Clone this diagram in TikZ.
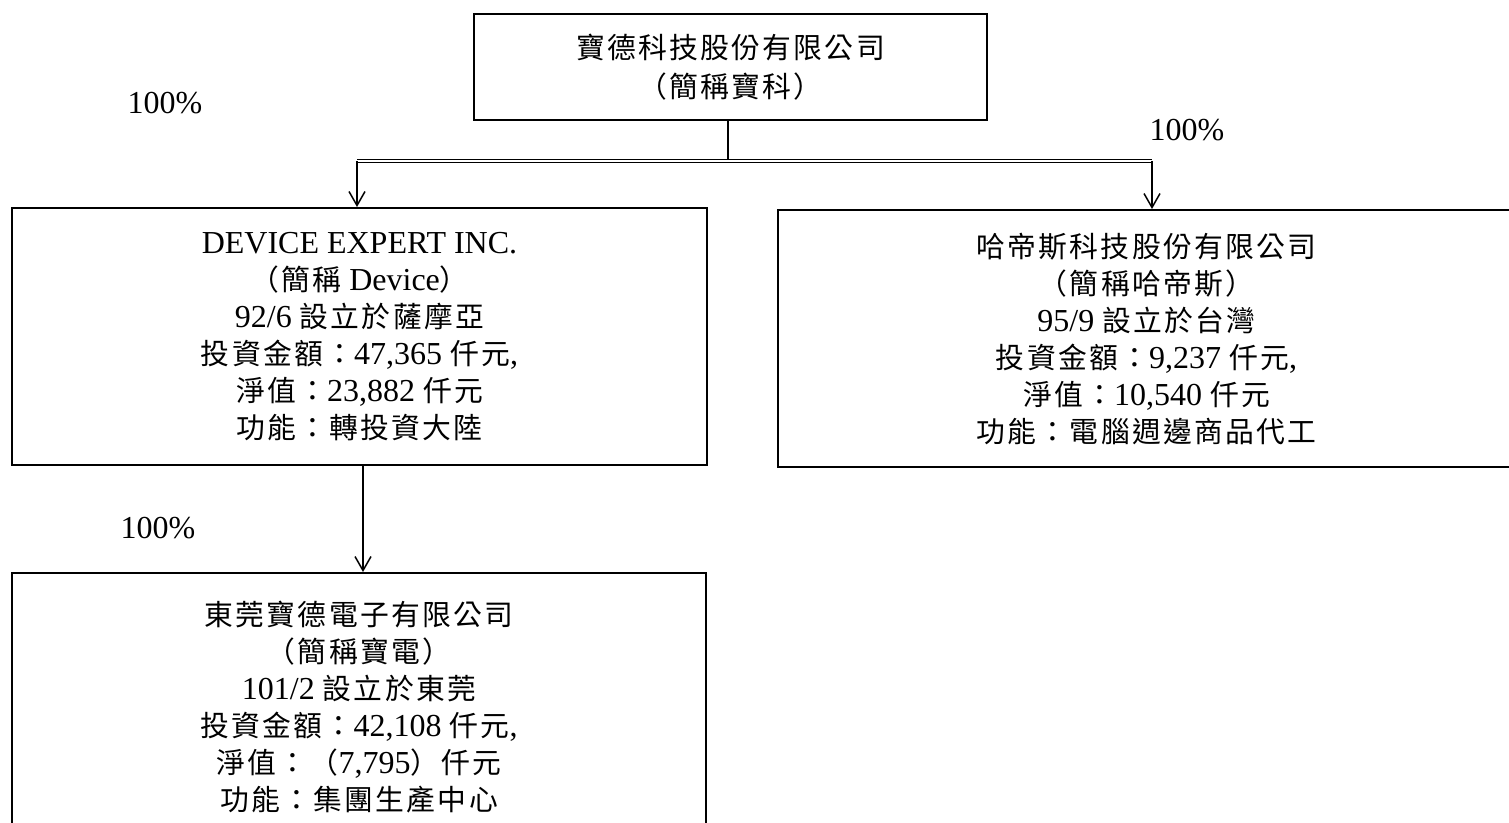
\documentclass[tikz,border=0pt]{standalone}
\usepackage{fontspec}
\setmainfont{Liberation Serif}
\newfontfamily\cjk[Scale=0.9,LetterSpace=8]{Noto Sans CJK TC}
\newcommand{\C}[1]{{\cjk #1}}
\usetikzlibrary{arrows.meta}
\begin{document}
\begin{tikzpicture}[x=1pt,y=-1pt,
  every node/.style={font=\fontsize{32}{37}\selectfont},
  box/.style={draw, line width=2pt, align=center, inner sep=0pt},
  arr/.style={line width=1.5pt, -{Straight Barb[length=14pt,width=16pt,line width=1.5pt]}},
  pct/.style={inner sep=0pt}]
\clip (0,0) rectangle (1509,822);
\fill[white] (0,0) rectangle (1509,822);
\node[box, minimum width=513pt, minimum height=106pt] (top) at (730.5,67)
  {\C{寶德科技股份有限公司}\\[2pt]\C{（簡稱寶科）}};
\node[box, minimum width=695pt, minimum height=257pt] (dev) at (359.5,336.5)
  {DEVICE EXPERT INC.\\
   \C{（簡稱} Device\C{）}\\
   92/6 \C{設立於薩摩亞}\\
   \C{投資金額：}47,365 \C{仟元},\\
   \C{淨值：}23,882 \C{仟元}\\
   \C{功能：轉投資大陸}};
\node[box, minimum width=737pt, minimum height=257pt] (hd) at (1146.5,338.5)
  {\C{哈帝斯科技股份有限公司}\\
   \C{（簡稱哈帝斯）}\\
   95/9 \C{設立於台灣}\\
   \C{投資金額：}9,237 \C{仟元},\\
   \C{淨值：}10,540 \C{仟元}\\
   \C{功能：電腦週邊商品代工}};
\node[box, minimum width=694pt, minimum height=269pt] (bot) at (359,707.5)
  {\C{東莞寶德電子有限公司}\\
   \C{（簡稱寶電）}\\
   101/2 \C{設立於東莞}\\
   \C{投資金額：}42,108 \C{仟元},\\
   \C{淨值：（}7,795\C{）仟元}\\
   \C{功能：集團生產中心}};
\coordinate (bus) at (728,161);
\coordinate (busl) at (357,161);
\coordinate (busr) at (1152,161);
\coordinate (down) at (363,0);
\draw[line width=1.5pt] (top.south -| bus) -- (bus);
\draw[line width=1pt, double, double distance=1.5pt] (busl) -- (busr);
\draw[arr] (busl) -- (busl |- dev.north);
\draw[arr] (busr) -- (busr |- hd.north);
\draw[arr] (down |- dev.south) -- (down |- bot.north);
\node[pct] (p1) at (165,103) {100\%};
\node[pct] (p2) at (1187,130) {100\%};
\node[pct] (p3) at (158,528) {100\%};
\end{tikzpicture}
\end{document}
